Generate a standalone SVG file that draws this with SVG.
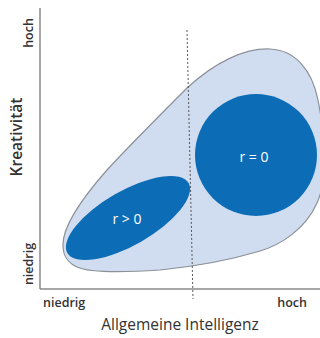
<svg xmlns="http://www.w3.org/2000/svg" width="320" height="338" viewBox="0 0 320 338">
<style>
.lbl{font-family:"Open Sans","Noto Sans","Liberation Sans",sans-serif;fill:#333333}
.sm{font-size:12.5px;font-weight:600}
.big{font-size:15.5px}
.in{font-family:"Open Sans","Noto Sans","Liberation Sans",sans-serif;font-size:14px;fill:#ffffff;text-anchor:middle}
.axis{stroke:#8a8a8a;stroke-width:1.5;fill:none}
.dark{fill:#0c6cb5}
</style>
<rect width="320" height="338" fill="#ffffff"/>
<g id="outer">
<path d="M 63,246 C 62,225 85,195 107,170 C 130,145 150,125 187,88 C 215,62 245,48 270,49 C 295,50 312,70 318,100 C 326,140 326,185 317,203 C 305,230 280,245 260,251 C 230,260 200,266 160,270 C 130,272 90,273 77,267 C 68,263 63,255 63,246 Z" fill="#d0ddf0" stroke="#8c9098" stroke-width="1.2"/>
</g>
<g id="ellipse-r-gt-0">
<ellipse cx="128" cy="218" rx="70" ry="27" transform="rotate(-30 128 218)" class="dark"/>
<text x="127" y="224" class="in">r &gt; 0</text>
</g>
<g id="circle-r-eq-0">
<circle cx="256" cy="155" r="61" class="dark"/>
<text x="254" y="162" class="in">r = 0</text>
</g>
<g id="connectors">
<line x1="40" y1="8" x2="40" y2="289" class="axis"/>
<line x1="40" y1="289" x2="320" y2="289" class="axis"/>
<line x1="187" y1="30" x2="193" y2="299" stroke="#555" stroke-width="1" stroke-dasharray="2 2"/>
</g>
<g id="labels">
<text class="lbl sm" text-anchor="middle" transform="translate(33 33) rotate(-90)">hoch</text>
<text class="lbl sm" text-anchor="middle" transform="translate(33 264) rotate(-90)">niedrig</text>
<text class="lbl big" font-weight="600" text-anchor="middle" transform="translate(22 137) rotate(-90)">Kreativität</text>
<text x="43" y="307" class="lbl sm">niedrig</text>
<text x="307" y="307" class="lbl sm" text-anchor="end">hoch</text>
<text x="180" y="330" class="lbl big" text-anchor="middle">Allgemeine Intelligenz</text>
</g>
</svg>
